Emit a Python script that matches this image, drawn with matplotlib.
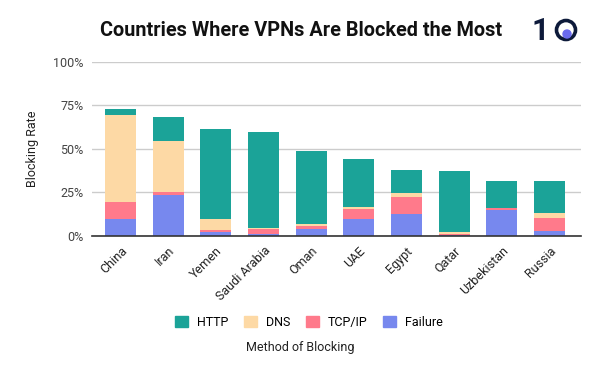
import matplotlib
matplotlib.use("Agg")
import matplotlib.pyplot as plt
import numpy as np
from matplotlib.patches import Patch, Circle

plt.rcParams["font.family"] = ["Roboto", "DejaVu Sans"]

countries = ["China", "Iran", "Yemen", "Saudi Arabia", "Oman", "UAE",
             "Egypt", "Qatar", "Uzbekistan", "Russia"]
failure = [9.8, 23.6, 2.5, 1.3, 4.0, 9.8, 12.6, 0.6, 14.9, 2.9]
tcpip = [9.7, 1.7, 1.1, 2.7, 1.7, 5.7, 9.8, 0.5, 1.2, 7.4]
dns = [50.0, 29.3, 6.2, 0.4, 1.2, 1.2, 2.3, 1.2, 0.0, 2.9]
http = [3.5, 13.8, 51.7, 55.4, 42.0, 27.6, 13.2, 35.1, 15.5, 18.4]

series = [("Failure", failure, "#7788ee"),
          ("TCP/IP", tcpip, "#ff7a8b"),
          ("DNS", dns, "#fdd9a5"),
          ("HTTP", http, "#1ba398")]

fig = plt.figure(figsize=(6, 3.71), dpi=100)
ax = fig.add_axes([0.153, 0.364, 0.815, 0.469])

x = np.arange(len(countries))
bottom = np.zeros(len(countries))
for name, vals, col in series:
    ax.bar(x, vals, width=0.65, bottom=bottom, color=col, zorder=3)
    bottom += np.array(vals)

ax.set_ylim(0, 100)
ax.set_xlim(-0.6, 9.66)
ax.set_yticks([0, 25, 50, 75, 100])
ax.set_yticklabels(["0%", "25%", "50%", "75%", "100%"], fontsize=9, color="#444444")
ax.set_xticks(x)
ax.set_xticklabels(countries, rotation=45, ha="right", rotation_mode="anchor",
                   fontsize=9, color="#222222")
ax.tick_params(axis="both", length=0, pad=6)
ax.grid(axis="y", color="#cccccc", lw=1, zorder=0)
for s in ["top", "right", "left"]:
    ax.spines[s].set_visible(False)
ax.spines["bottom"].set_color("#333333")
ax.spines["bottom"].set_linewidth(1.2)
ax.spines["bottom"].set_zorder(4)
ax.set_ylabel("Blocking Rate", fontsize=9, color="#222222", labelpad=10)

fig.text(0.502, 0.917, "Countries Where VPNs Are Blocked the Most",
         ha="center", va="center", fontsize=14.3, fontweight="bold", color="#111111")

# logo: "1" plus ring with dot (pixel coords, origin bottom-left)
fig.text(0.9, 0.917, "1", ha="center", va="center", fontsize=22,
         fontweight="bold", color="#0d1a3a")
ring = Circle((566, 341), 9.5, transform=None, fill=False, lw=2.6,
              edgecolor="#0d1a3a")
dot = Circle((567, 337), 4, transform=None, color="#6b6bef")
fig.patches.extend([ring, dot])

handles = [Patch(color=c, label=n) for n, _, c in series[::-1]]
fig.legend(handles=handles, loc="center", bbox_to_anchor=(0.515, 0.132), ncol=4,
           frameon=False, fontsize=9, handlelength=1.0, handleheight=1.0,
           columnspacing=1.3, handletextpad=0.7)
fig.text(0.5, 0.062, "Method of Blocking", ha="center", va="center",
         fontsize=9, color="#222222")

fig.savefig("out.png", dpi=100)
